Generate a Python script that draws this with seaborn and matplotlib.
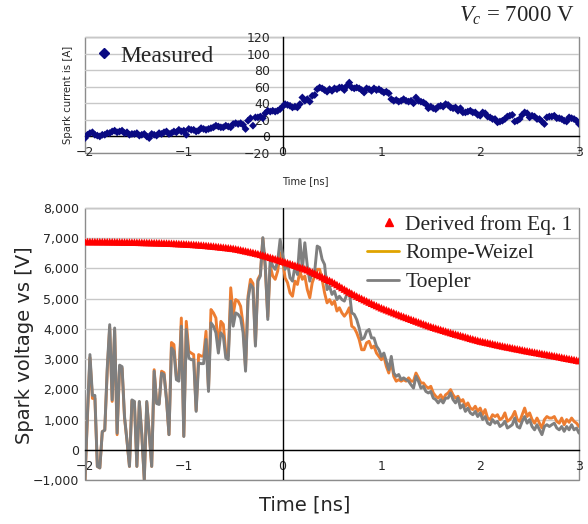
import numpy as np
import pandas as pd
import matplotlib
matplotlib.use("Agg")
import matplotlib.pyplot as plt
import seaborn as sns
from matplotlib.lines import Line2D
from matplotlib.patches import Rectangle
from matplotlib.ticker import MultipleLocator, FuncFormatter

# ----------------- DATA -----------------
time_ns = np.round(np.arange(-2.0, 3.0001, 0.025), 3)    # 201 samples

current_measured = [
    -2, 2, 4, 5, 2, 1, 0, 2,
    2, 4, 4, 6, 7, 5, 6, 7,
    4, 5, 2, 3, 3, 4, 1, 2,
    3, 0, -2, 3, 2, 1, 4, 3,
    5, 6, 3, 4, 6, 5, 8, 6,
    7, 2, 9, 8, 8, 6, 7, 10,
    9, 8, 9, 10, 11, 13, 12, 11,
    11, 13, 12, 11, 15, 16, 15, 16,
    14, 9, 19, 22, 13, 23, 23, 24,
    22, 28, 31, 30, 31, 30, 31, 33,
    36, 39, 38, 37, 35, 36, 35, 39,
    47, 43, 45, 42, 49, 50, 57, 59,
    58, 56, 54, 57, 55, 58, 57, 59,
    59, 56, 61, 65, 59, 58, 59, 58,
    56, 53, 58, 57, 55, 58, 56, 57,
    55, 53, 54, 52, 45, 43, 44, 42,
    43, 45, 43, 42, 43, 40, 47, 43,
    42, 41, 39, 34, 36, 34, 33, 36,
    37, 36, 39, 38, 35, 34, 35, 31,
    34, 29, 29, 30, 31, 29, 29, 26,
    25, 29, 28, 24, 23, 21, 21, 17,
    18, 19, 21, 24, 25, 26, 18, 19,
    21, 26, 29, 28, 23, 25, 24, 21,
    21, 18, 15, 23, 24, 24, 25, 22,
    22, 21, 19, 18, 23, 22, 21, 19,
    15,
]

voltage_toepler = [
    -1000, 1200, 3150, 1800, 1800, -550, -600, 600,
    650, 2700, 4140, 1650, 4030, 550, 2800, 2750,
    1100, 300, -550, 1650, 1600, -550, 1600, 500,
    -1000, 1600, 550, -550, 2600, 1530, 1500, 2540,
    2490, 1650, 500, 3370, 3260, 2320, 2270, 4090,
    440, 3980, 3040, 2980, 2980, 1270, 2870, 2850,
    2850, 3650, 1930, 4200, 4090, 3870, 3200, 3870,
    3760, 3040, 2980, 4920, 4090, 4530, 4480, 4360,
    3870, 2600, 4970, 5470, 5360, 3430, 5580, 5750,
    7020, 6080, 4310, 6350, 6080, 5970, 6240, 6960,
    6460, 5970, 6190, 5690, 5580, 6080, 5800, 6960,
    5970, 6850, 6080, 5580, 5910, 5910, 6740, 6690,
    6300, 6130, 5300, 5410, 5140, 5250, 4970, 5080,
    4970, 4920, 5140, 5250, 4530, 4480, 4310, 4030,
    3650, 3700, 3920, 3980, 3700, 3700, 3430, 3310,
    3090, 3200, 2930, 2650, 3090, 2540, 2430, 2490,
    2320, 2380, 2320, 2270, 2150, 2040, 2430, 2270,
    2040, 2100, 1930, 1880, 1930, 1710, 1660, 1550,
    1660, 1550, 1710, 1710, 1880, 1660, 1550, 1710,
    1380, 1490, 1270, 1380, 1220, 1160, 1270, 1100,
    1220, 1000, 1100, 880, 830, 1000, 880, 940,
    770, 830, 940, 720, 770, 830, 1050, 770,
    720, 940, 1100, 880, 1000, 770, 660, 830,
    660, 500, 770, 830, 770, 830, 880, 720,
    660, 770, 610, 770, 660, 830, 660, 720,
    550,
]

voltage_rompe = [
    -1000, 1100, 3050, 1700, 1700, -550, -600, 600,
    650, 2600, 4050, 1600, 3950, 500, 2750, 2700,
    1050, 300, -550, 1620, 1580, -550, 1580, 480,
    -1000, 1580, 540, -550, 2650, 1560, 1530, 2600,
    2550, 1680, 500, 3550, 3480, 2400, 2350, 4360,
    450, 4250, 3260, 3200, 3150, 1300, 3150, 3100,
    3100, 3920, 2000, 4640, 4530, 4360, 3350, 4250,
    4150, 3200, 3100, 5360, 4480, 4970, 4920, 4750,
    4150, 2700, 5080, 5640, 5500, 3500, 5640, 5800,
    7000, 6000, 4400, 6080, 5750, 5640, 5910, 6520,
    6300, 5690, 5530, 5190, 5080, 5580, 5470, 5910,
    5640, 5750, 5300, 5030, 5530, 5750, 5970, 5970,
    5640, 5190, 4860, 4970, 4810, 4920, 4590, 4700,
    4530, 4420, 4530, 4700, 4090, 4030, 3870, 3650,
    3310, 3310, 3540, 3590, 3370, 3430, 3200, 3090,
    2980, 3090, 2760, 2540, 2930, 2430, 2270, 2320,
    2270, 2320, 2270, 2380, 2270, 2270, 2540, 2380,
    2210, 2210, 2100, 2040, 2100, 1880, 1770, 1710,
    1820, 1660, 1820, 1880, 1990, 1820, 1710, 1770,
    1600, 1660, 1440, 1550, 1380, 1330, 1440, 1270,
    1380, 1160, 1330, 1050, 1000, 1160, 1100, 1160,
    1000, 1050, 1220, 940, 1000, 1100, 1270, 1000,
    940, 1160, 1380, 1100, 1220, 1000, 880, 1050,
    880, 720, 1000, 1100, 1050, 1050, 1100, 940,
    880, 1050, 830, 1000, 910, 1050, 940, 880,
    770,
]

voltage_eq1 = [
    6890, 6890, 6890, 6889, 6889, 6888, 6888, 6887,
    6887, 6886, 6885, 6884, 6883, 6881, 6880, 6878,
    6877, 6875, 6874, 6872, 6870, 6868, 6866, 6864,
    6862, 6860, 6858, 6856, 6854, 6852, 6850, 6847,
    6844, 6841, 6838, 6834, 6831, 6827, 6823, 6819,
    6815, 6810, 6805, 6800, 6795, 6790, 6784, 6777,
    6770, 6763, 6755, 6748, 6740, 6731, 6722, 6712,
    6703, 6694, 6685, 6675, 6665, 6650, 6635, 6618,
    6600, 6583, 6565, 6548, 6530, 6510, 6490, 6468,
    6445, 6420, 6395, 6370, 6345, 6320, 6295, 6268,
    6240, 6215, 6190, 6163, 6135, 6108, 6080, 6050,
    6020, 5990, 5960, 5923, 5885, 5845, 5805, 5765,
    5725, 5685, 5645, 5608, 5570, 5520, 5470, 5420,
    5370, 5320, 5270, 5225, 5180, 5135, 5090, 5050,
    5010, 4970, 4930, 4890, 4850, 4812, 4775, 4738,
    4700, 4668, 4635, 4603, 4570, 4538, 4505, 4473,
    4440, 4410, 4380, 4350, 4320, 4290, 4260, 4230,
    4200, 4170, 4140, 4110, 4080, 4055, 4030, 4005,
    3980, 3955, 3930, 3905, 3880, 3855, 3830, 3808,
    3785, 3763, 3740, 3715, 3690, 3668, 3645, 3623,
    3600, 3583, 3565, 3548, 3530, 3510, 3490, 3473,
    3455, 3438, 3420, 3405, 3390, 3373, 3355, 3340,
    3325, 3308, 3290, 3275, 3260, 3245, 3230, 3215,
    3200, 3185, 3170, 3155, 3140, 3125, 3110, 3095,
    3080, 3063, 3045, 3030, 3015, 3000, 2985, 2968,
    2950,
]

df = pd.DataFrame({
    "time": time_ns,
    "current": current_measured,
    "toepler": voltage_toepler,
    "rompe": voltage_rompe,
    "eq1": voltage_eq1,
})

# ----------------- STYLE -----------------
sns.set_theme(style="white")
plt.rcParams["font.family"] = ["DejaVu Sans"]
plt.rcParams["mathtext.fontset"] = "custom"
plt.rcParams["mathtext.rm"] = "Liberation Serif"
plt.rcParams["mathtext.it"] = "Liberation Serif:italic"

W, H = 588, 524
frame_col = "#8C8C8C"
grid_col = "#C8C8C8"
navy = "#0A0A82"
orange = "#ED7D31"
gray = "#7F7F7F"
serif = "Liberation Serif"

fig = plt.figure(figsize=(W / 100, H / 100), dpi=100)
ax1 = fig.add_axes([85 / W, 1 - 153 / H, 494 / W, 116 / H])
ax2 = fig.add_axes([85 / W, 1 - 480 / H, 494 / W, 272 / H])


def style_common(ax):
    for s in ["top", "right", "left"]:
        ax.spines[s].set_visible(False)
    ax.spines["bottom"].set_position(("data", 0))
    ax.spines["bottom"].set_color("black")
    ax.spines["bottom"].set_linewidth(1.0)
    ax.add_patch(Rectangle((0, 0), 1, 1, transform=ax.transAxes, fill=False,
                           edgecolor=frame_col, lw=1.0, zorder=0.5, clip_on=False))
    ax.set_xlim(-2, 3)
    ax.xaxis.set_major_locator(MultipleLocator(1))
    ax.xaxis.set_minor_locator(MultipleLocator(0.2))
    ax.xaxis.set_major_formatter(FuncFormatter(lambda v, p: f"{v:.0f}".replace("-", "\u2212")))
    ax.tick_params(axis="x", which="both", direction="inout", length=5, width=0.8,
                   color="#505050", labelsize=9, pad=4.5)
    ax.grid(axis="y", color=grid_col, lw=1.0)
    ax.grid(axis="x", visible=False)
    ax.set_axisbelow(True)
    ax.set_xlabel("")
    ax.set_ylabel("")


# ----------------- TOP: CURRENT -----------------
sns.scatterplot(data=df, x="time", y="current", marker="D", s=16, color=navy,
                edgecolor="none", ax=ax1, legend=False, zorder=3)
style_common(ax1)
ax1.set_ylim(-20, 120)
ax1.yaxis.set_major_locator(MultipleLocator(20))
ax1.spines["left"].set_visible(True)
ax1.spines["left"].set_position(("data", 0))
ax1.spines["left"].set_color("black")
ax1.spines["left"].set_linewidth(1.0)
ax1.tick_params(axis="y", length=0, labelsize=9, pad=9)
ax1.legend(handles=[Line2D([], [], marker="D", ls="none", color=navy, markersize=5)],
           labels=["Measured"], loc="upper left", bbox_to_anchor=(0.02, 0.93),
           frameon=False, prop={"family": serif, "size": 17}, handlelength=0.8,
           handletextpad=0.3, borderpad=0, borderaxespad=0)

# ----------------- BOTTOM: VOLTAGE -----------------
sns.lineplot(data=df, x="time", y="rompe", color=orange, lw=2.1, ax=ax2,
             legend=False, zorder=2)
sns.lineplot(data=df, x="time", y="toepler", color=gray, lw=2.1, ax=ax2,
             legend=False, zorder=2.5)
sns.scatterplot(data=df, x="time", y="eq1", marker="^", s=30, color="#FF0000",
                edgecolor="none", ax=ax2, legend=False, zorder=4)
style_common(ax2)
ax2.set_ylim(-1000, 8000)
ax2.yaxis.set_major_locator(MultipleLocator(1000))
ax2.yaxis.set_major_formatter(FuncFormatter(lambda v, p: f"{v:,.0f}".replace("-", "\u2212")))
ax2.tick_params(axis="y", length=0, labelsize=9, pad=4)
ax2.axvline(0, color="black", lw=1.0, zorder=1.5)

leg1 = ax2.legend(handles=[Line2D([], [], marker="^", ls="none", color="#FF0000", markersize=6)],
                  labels=["Derived from Eq. 1"], loc="upper right", bbox_to_anchor=(1.0, 1.0),
                  frameon=False, prop={"family": serif, "size": 15.5}, handlelength=0.6,
                  handletextpad=0.45, borderpad=0.3, borderaxespad=0)
ax2.add_artist(leg1)
ax2.legend(handles=[Line2D([], [], color="#E0A400", lw=2.0), Line2D([], [], color=gray, lw=2.0)],
           labels=["Rompe-Weizel", "Toepler"], loc="upper left",
           bbox_to_anchor=((367 - 85) / 494, (480 - 243) / 272),
           frameon=False, prop={"family": serif, "size": 15.5}, handlelength=1.5,
           handletextpad=0.3, labelspacing=0.42, borderpad=0, borderaxespad=0)

# ----------------- LABELS -----------------
fig.text(305 / W, 1 - 181 / H, "Time [ns]", ha="center", va="center", fontsize=7.1)
fig.text(68 / W, 1 - 95 / H, "Spark current is [A]", ha="center", va="center",
         rotation=90, fontsize=7.3)
fig.text(305 / W, 1 - 505 / H, "Time [ns]", ha="center", va="center", fontsize=14)
fig.text(25 / W, 1 - 345 / H, "Spark voltage vs [V]", ha="center", va="center",
         rotation=90, fontsize=14)
fig.text(575 / W, 1 - 16 / H, r"$V_c$ = 7000 V", ha="right", va="center",
         fontsize=16.5, family=serif)

fig.savefig("out.png", dpi=100)
